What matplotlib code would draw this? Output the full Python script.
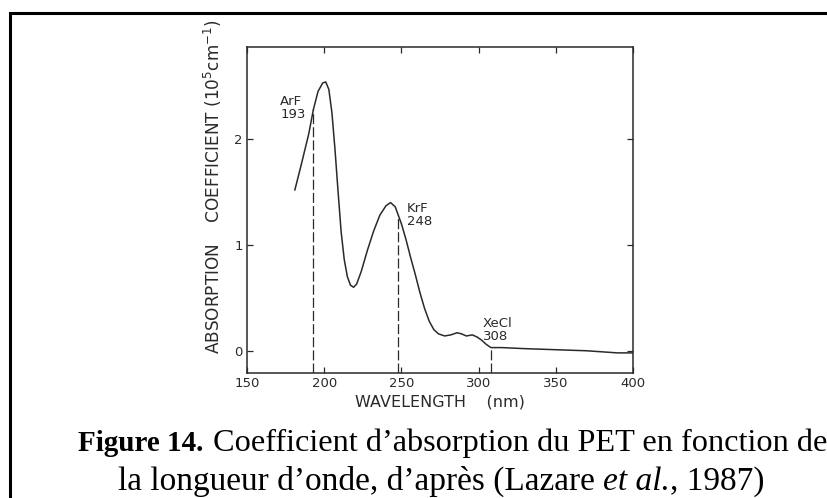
import numpy as np
import matplotlib
matplotlib.use("Agg")
import matplotlib.pyplot as plt
from matplotlib.patches import Rectangle

# absorption spectrum of PET
wavelength = [181, 185, 190, 193, 196, 199, 201, 203, 205, 207, 209, 211, 213,
              215, 217, 219, 221, 224, 228, 232, 236, 240, 243, 246, 248, 250,
              253, 256, 259, 262, 265, 268, 271, 274, 278, 282, 286, 289, 292,
              296, 299, 302, 305, 308, 315, 330, 350, 370, 390, 400]
absorption = [1.52, 1.75, 2.05, 2.28, 2.45, 2.53, 2.54, 2.47, 2.25, 1.90, 1.50,
              1.12, 0.86, 0.70, 0.62, 0.60, 0.63, 0.75, 0.95, 1.13, 1.28, 1.37,
              1.40, 1.36, 1.28, 1.20, 1.05, 0.88, 0.72, 0.55, 0.40, 0.28, 0.20,
              0.16, 0.14, 0.15, 0.17, 0.16, 0.14, 0.15, 0.13, 0.10, 0.06, 0.03,
              0.03, 0.02, 0.01, 0.00, -0.02, -0.02]

laser_names = ["ArF", "KrF", "XeCl"]
laser_lines = [193, 248, 308]
laser_tops = [2.28, 1.28, 0.03]

x_ticks = [150, 200, 250, 300, 350, 400]
y_ticks = [0, 1, 2]

ink = "#2a2a2a"
W, H = 828, 498

fig = plt.figure(figsize=(W / 100, H / 100), dpi=100)

# frame around the figure (cut off at right and bottom)
fig.patches.append(Rectangle((10 / W, -0.1), 1.2, 1.1 - 13 / H, transform=fig.transFigure,
                             fill=False, lw=2.2, ec="black"))

ax = fig.add_axes([247 / W, 1 - 373 / H, (633 - 247) / W, (373 - 47) / H])
ax.plot(wavelength, absorption, color=ink, lw=1.1)
ax.vlines(laser_lines, -0.21, laser_tops, colors=ink, lw=0.9, linestyles=(0, (8, 2.5)))

label_pos = [(171.5, 2.42), (253.5, 1.41), (302.8, 0.32)]
for name, nm, (lx, ly) in zip(laser_names, laser_lines, label_pos):
    ax.text(lx, ly, f"{name}\n{nm}", fontsize=9.5, color=ink, va="top", ha="left",
            linespacing=1.0)

ax.set_xlim(150, 400)
ax.set_ylim(-0.21, 2.87)
ax.set_xticks(x_ticks)
ax.set_yticks(y_ticks)
ax.tick_params(direction="in", top=True, right=True, length=4, width=0.9,
               labelsize=9.5, colors=ink, pad=3)
for s in ax.spines.values():
    s.set_color(ink)
    s.set_linewidth(1.1)

ax.set_xlabel("WAVELENGTH    (nm)", fontsize=11.5, color=ink, labelpad=3)
# y label sits higher than the axes centre in the original scan
fig.text(213 / W, 1 - 187 / H, "ABSORPTION    COEFFICIENT (10$^5$cm$^{-1}$)",
         fontsize=12.2, color=ink, rotation=90, ha="center", va="center")

# caption in mixed bold / roman / italic Times-like font
serif = "Liberation Serif"
fig.canvas.draw()
rend = fig.canvas.get_renderer()


def put_runs(x0, y, runs):
    x = x0
    for txt, size, kw in runs:
        if txt is None:
            x = size
            continue
        t = fig.text(x / W, 1 - y / H, txt, fontsize=size, family=serif, va="baseline",
                     ha="left", **kw)
        bb = t.get_window_extent(renderer=rend)
        x += bb.width


put_runs(78, 451, [("Figure 14.", 21, {"weight": "bold"}),
                   (None, 213, {}),
                   ("Coefficient d\u2019absorption du PET en fonction de", 23.2, {})])
put_runs(118, 490, [("la longueur d\u2019onde, d\u2019apr\u00e8s (Lazare ", 24, {}),
                    ("et al.", 24, {"style": "italic"}),
                    (", 1987)", 24, {})])

fig.savefig("out.png", dpi=100)
